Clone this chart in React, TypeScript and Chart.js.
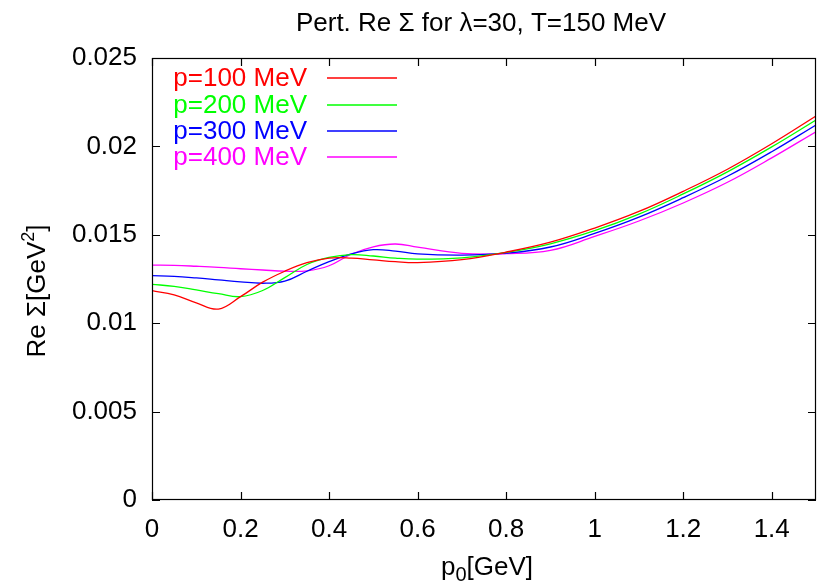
import React, { useEffect, useRef } from "react";
import { Chart, registerables } from "chart.js";
Chart.register(...registerables);

const titleText = "Pert. Re Σ for λ=30, T=150 MeV";
const xValues = [0, 0.05, 0.1, 0.15, 0.2, 0.25, 0.3, 0.35, 0.4, 0.45, 0.5, 0.55, 0.6, 0.7, 0.8, 0.9, 1.0, 1.1, 1.2, 1.3, 1.4, 1.5];
const p100 = [0.01184, 0.0116, 0.01115, 0.0108, 0.0115, 0.01232, 0.01294, 0.01342, 0.01368, 0.01368, 0.01358, 0.01348, 0.01343, 0.0136, 0.01402, 0.01458, 0.01538, 0.01632, 0.01746, 0.01871, 0.02015, 0.02172];
const p200 = [0.0122, 0.01208, 0.01188, 0.01167, 0.0115, 0.01185, 0.01258, 0.01332, 0.01372, 0.01388, 0.0138, 0.01368, 0.01362, 0.0137, 0.014, 0.01449, 0.01523, 0.01617, 0.01731, 0.01856, 0.01997, 0.02149];
const p300 = [0.01269, 0.01265, 0.01256, 0.01245, 0.01234, 0.01226, 0.01238, 0.01294, 0.01348, 0.01392, 0.01416, 0.01408, 0.01392, 0.01385, 0.01396, 0.01431, 0.01508, 0.016, 0.0171, 0.01831, 0.0197, 0.02121];
const p400 = [0.01329, 0.01327, 0.01322, 0.01316, 0.01308, 0.01301, 0.01294, 0.01296, 0.01325, 0.0139, 0.01432, 0.01448, 0.0143, 0.01395, 0.01393, 0.01412, 0.01491, 0.01578, 0.0168, 0.01797, 0.01935, 0.02083];
const seriesLabels = ["p=100 MeV", "p=200 MeV", "p=300 MeV", "p=400 MeV"];
const seriesColors = ["#ff0000", "#00ff00", "#0000ff", "#ff00ff"];
const seriesValues = [p100, p200, p300, p400];
const xMin = 0, xMax = 1.5, xStep = 0.2;
const yMin = 0, yMax = 0.025, yStep = 0.005;

const FONT = '"Liberation Sans", Arial, Helvetica, sans-serif';
const FS = 26;

type Part = { t: string; size: number; dy: number };

function drawRich(ctx: CanvasRenderingContext2D, parts: Part[], cx: number, baseline: number) {
  let total = 0;
  const widths = parts.map((p) => {
    ctx.font = `${p.size}px ${FONT}`;
    const w = ctx.measureText(p.t).width;
    total += w;
    return w;
  });
  let x = cx - total / 2;
  ctx.textAlign = "left";
  ctx.textBaseline = "alphabetic";
  parts.forEach((p, i) => {
    ctx.font = `${p.size}px ${FONT}`;
    ctx.fillText(p.t, x, baseline + p.dy);
    x += widths[i];
  });
}

const decor = {
  id: "decor",
  afterDraw(chart: any) {
    const { ctx, chartArea: a, scales } = chart;
    ctx.save();
    ctx.fillStyle = "#000";
    // title
    ctx.font = `${FS}px ${FONT}`;
    ctx.textAlign = "center";
    ctx.textBaseline = "alphabetic";
    ctx.fillText(titleText, (a.left + a.right) / 2 - 3, 31);
    // axis titles
    drawRich(ctx, [
      { t: "p", size: FS, dy: 0 },
      { t: "0", size: 20, dy: 6 },
      { t: "[GeV]", size: FS, dy: 0 },
    ], 487, 575);
    ctx.save();
    ctx.translate(45, 291);
    ctx.rotate(-Math.PI / 2);
    drawRich(ctx, [
      { t: "Re Σ[GeV", size: FS, dy: 0 },
      { t: "2", size: 18, dy: -11 },
      { t: "]", size: FS, dy: 0 },
    ], 0, 0);
    ctx.restore();
    // box
    ctx.strokeStyle = "#000";
    ctx.lineWidth = 1.2;
    ctx.strokeRect(a.left + 0.5, a.top + 0.5, a.right - a.left - 1, a.bottom - a.top - 1);
    // ticks
    const tl = 8;
    ctx.beginPath();
    scales.x.ticks.forEach((t: any) => {
      const px = Math.round(scales.x.getPixelForValue(t.value)) + 0.5;
      ctx.moveTo(px, a.bottom);
      ctx.lineTo(px, a.bottom - tl);
      ctx.moveTo(px, a.top);
      ctx.lineTo(px, a.top + tl);
    });
    scales.y.ticks.forEach((t: any) => {
      const py = Math.round(scales.y.getPixelForValue(t.value)) + 0.5;
      ctx.moveTo(a.left, py);
      ctx.lineTo(a.left + tl, py);
      ctx.moveTo(a.right, py);
      ctx.lineTo(a.right - tl, py);
    });
    ctx.stroke();
    // legend
    chart.data.datasets.forEach((ds: any, i: number) => {
      const y = a.top + 20.3 + i * 26.2;
      ctx.fillStyle = ds.borderColor;
      ctx.font = `${FS}px ${FONT}`;
      ctx.textAlign = "right";
      ctx.textBaseline = "middle";
      ctx.fillText(ds.label, a.left + 155, y + 1);
      ctx.strokeStyle = ds.borderColor;
      ctx.lineWidth = 1.6;
      ctx.beginPath();
      ctx.moveTo(a.left + 175, Math.round(y));
      ctx.lineTo(a.left + 245, Math.round(y));
      ctx.stroke();
    });
    ctx.restore();
  },
};

export default function App() {
  const ref = useRef<HTMLCanvasElement>(null);
  useEffect(() => {
    if (!ref.current) return;
    const chart = new Chart(ref.current, {
      type: "line",
      data: {
        datasets: seriesValues.map((vals, i) => ({
          label: seriesLabels[i],
          data: xValues.map((x, j) => ({ x, y: vals[j] })),
          borderColor: seriesColors[i],
          backgroundColor: seriesColors[i],
          borderWidth: 1.3,
          pointRadius: 0,
          tension: 0.4,
          fill: false,
        })),
      },
      options: {
        responsive: false,
        animation: false,
        devicePixelRatio: 1,
        layout: { padding: { top: 58, right: 1, left: 0, bottom: 0 } },
        plugins: { legend: { display: false }, title: { display: false }, tooltip: { enabled: false } },
        scales: {
          x: {
            type: "linear",
            min: xMin,
            max: xMax,
            grid: { display: false, drawTicks: false },
            border: { display: false },
            ticks: {
              stepSize: xStep,
              includeBounds: false,
              autoSkip: false,
              maxRotation: 0,
              padding: 14,
              color: "#000",
              font: { family: FONT, size: FS },
              callback: (v: any) => Number(Number(v).toFixed(2)).toString(),
            },
            afterFit: (s: any) => { s.height = 85; },
          },
          y: {
            type: "linear",
            min: yMin,
            max: yMax,
            grid: { display: false, drawTicks: false },
            border: { display: false },
            ticks: {
              stepSize: yStep,
              autoSkip: false,
              padding: 15,
              color: "#000",
              font: { family: FONT, size: FS },
              callback: (v: any) => Number(Number(v).toFixed(3)).toString(),
            },
            afterFit: (s: any) => { s.width = 152; },
          },
        },
      },
      plugins: [decor],
    });
    return () => chart.destroy();
  }, []);
  return (
    <div style={{ position: "absolute", left: 0, top: 0, width: 817, height: 585, background: "#fff" }}>
      <canvas ref={ref} width={817} height={585} />
    </div>
  );
}
